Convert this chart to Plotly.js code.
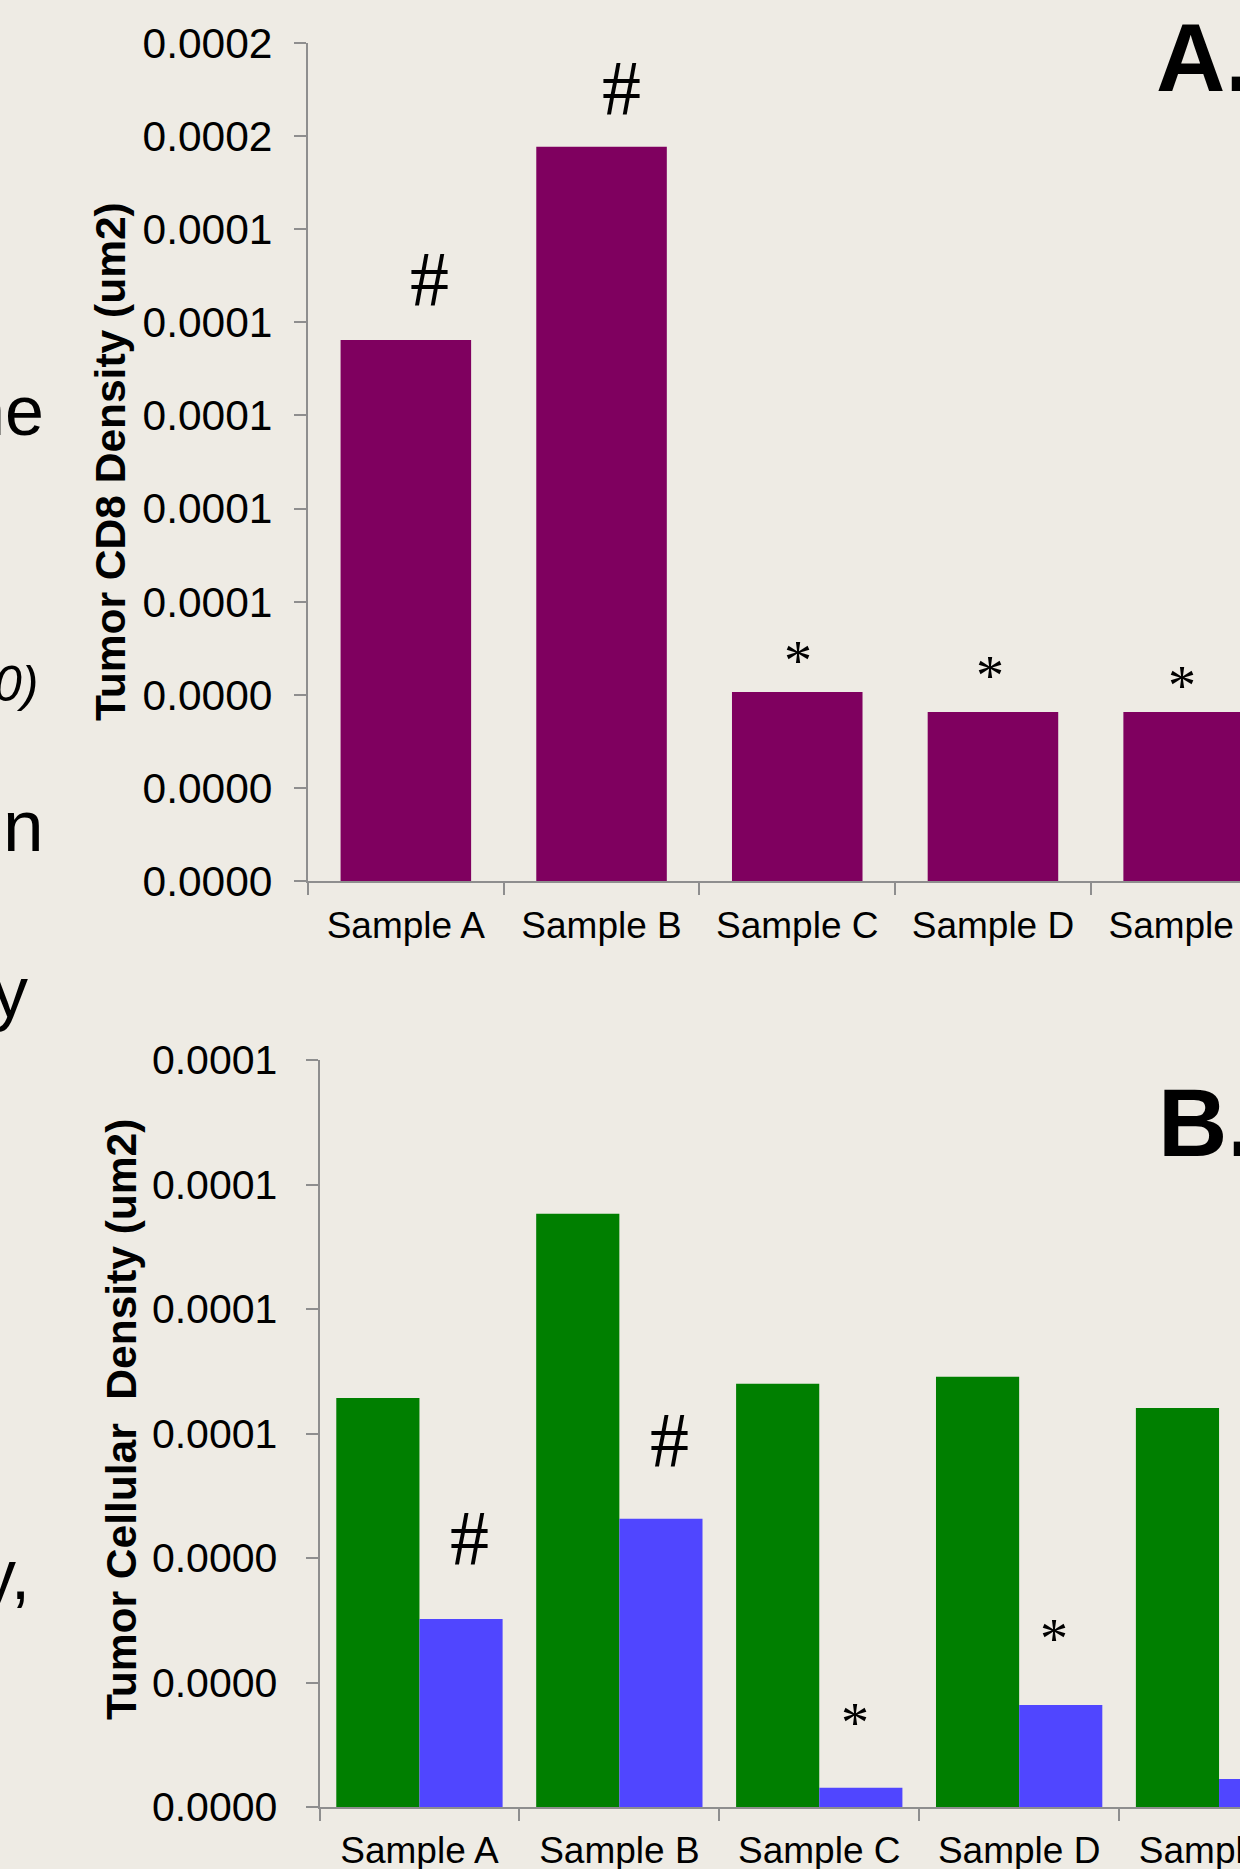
<!DOCTYPE html>
<html>
<head>
<meta charset="utf-8">
<script src="https://cdn.plot.ly/plotly-3.0.1.min.js"></script>
<style>
  html, body { margin: 0; padding: 0; background: #EEEBE4; overflow: hidden; }
  #chart { width: 1240px; height: 1869px; }
</style>
</head>
<body>
<div id="chart"></div>
<script>
// ---------- data ----------
const categories = ['Sample A', 'Sample B', 'Sample C', 'Sample D', 'Sample E'];

// Panel A: Tumor CD8 density
const cd8Density = [0.0001162, 0.0001577, 0.0000406, 0.0000363, 0.0000363];
const marksA = ['#', '#', '*', '*', '*'];

// Panel B: tumor cellular density (green) and CD8 cell density (blue)
const tumorCellDensity = [0.0000657, 0.0000953, 0.0000680, 0.0000691, 0.0000641];
const cd8CellDensity   = [0.0000302, 0.0000463, 0.0000031, 0.0000164, 0.0000045];
const marksB = ['#', '#', '*', '*', ''];

// Tick values / labels
const yTickValsA = [0, 0.00002, 0.00004, 0.00006, 0.00008, 0.0001, 0.00012, 0.00014, 0.00016, 0.00018];
const yTickTextA = ['0.0000', '0.0000', '0.0000', '0.0001', '0.0001', '0.0001', '0.0001', '0.0001', '0.0002', '0.0002'];
const yTickValsB = [0, 0.00002, 0.00004, 0.00006, 0.00008, 0.0001, 0.00012];
const yTickTextB = ['0.0000', '0.0000', '0.0000', '0.0001', '0.0001', '0.0001', '0.0001'];

const titleA = 'Tumor CD8 Density (um2)';
const titleB = 'Tumor Cellular\u00A0 Density (um2)';
const panelLabels = ['A.', 'B.'];
const sideFragments = ['ne', '0)', 'n', 'y', 'y,'];

// ---------- layout helpers (pixel geometry of the page) ----------
const W = 1240, H = 1869;
const px = x => x / W;
const py = y => 1 - y / H;

const BG = '#EEEBE4';
const AXIS = '#8E8E8E';
const SANS = 'Liberation Sans, Arial, sans-serif';
const SERIF = 'Liberation Serif, Times New Roman, serif';

const traces = [
  {
    type: 'bar', name: 'Tumor CD8 density', x: categories, y: cd8Density,
    xaxis: 'x', yaxis: 'y', width: 0.667,
    marker: { color: '#7F005F' }, showlegend: false, hoverinfo: 'skip'
  },
  {
    type: 'bar', name: 'Tumor cellular density', x: categories, y: tumorCellDensity,
    xaxis: 'x2', yaxis: 'y2', width: 0.416, offset: -0.416,
    marker: { color: '#007F00' }, showlegend: false, hoverinfo: 'skip'
  },
  {
    type: 'bar', name: 'CD8 cell density', x: categories, y: cd8CellDensity,
    xaxis: 'x2', yaxis: 'y2', width: 0.416, offset: 0,
    marker: { color: '#5046FF' }, showlegend: false, hoverinfo: 'skip'
  }
];

function xAxis(domainLeft, rangeMax, anchor, standoff) {
  return {
    type: 'category', domain: [px(domainLeft), 1], range: [-0.5, rangeMax], anchor: anchor,
    showline: true, linecolor: AXIS, linewidth: 2,
    ticks: 'outside', tickson: 'boundaries', ticklen: 12, tickwidth: 2, tickcolor: AXIS,
    tickfont: { family: SANS, size: 37, color: '#000' },
    ticklabelstandoff: standoff,
    showgrid: false, zeroline: false, fixedrange: true
  };
}
function yAxis(top, bottom, rmax, vals, text, fontSize, standoff, anchor) {
  return {
    domain: [py(bottom), py(top)], range: [0, rmax], anchor: anchor,
    tickmode: 'array', tickvals: vals, ticktext: text,
    showline: true, linecolor: AXIS, linewidth: 2,
    ticks: 'outside', ticklen: 12, tickwidth: 2, tickcolor: AXIS,
    tickfont: { family: SANS, size: fontSize, color: '#000' },
    ticklabelstandoff: standoff,
    showgrid: false, zeroline: false, fixedrange: true
  };
}

const annotations = [];
const markFont = m => m === '*'
  ? { family: SERIF, size: 56, color: '#000' }
  : { family: SERIF, size: 78, color: '#000' };

// significance marks, panel A (placed relative to each bar top)
const markShiftA = [[24, 62], [20, 59], [1, 31], [-3, 36], [-7, 26]];
marksA.forEach((m, i) => {
  if (!m) return;
  annotations.push({
    xref: 'x', yref: 'y', x: categories[i], y: cd8Density[i], text: m, showarrow: false,
    xanchor: 'center', yanchor: 'middle', xshift: markShiftA[i][0], yshift: markShiftA[i][1],
    font: markFont(m)
  });
});
// significance marks, panel B (above the blue bars)
const markShiftB = [[50, 82], [50, 79], [36, 65], [35, 66], [0, 0]];
marksB.forEach((m, i) => {
  if (!m) return;
  annotations.push({
    xref: 'x2', yref: 'y2', x: categories[i], y: cd8CellDensity[i], text: m, showarrow: false,
    xanchor: 'center', yanchor: 'middle', xshift: markShiftB[i][0], yshift: markShiftB[i][1],
    font: markFont(m)
  });
});

// axis titles (rotated)
annotations.push({
  xref: 'paper', yref: 'paper', x: px(111), y: py(462), text: titleA, textangle: -90,
  showarrow: false, xanchor: 'center', yanchor: 'middle',
  font: { family: SANS, size: 42.5, color: '#000', weight: 'bold' }
});
annotations.push({
  xref: 'paper', yref: 'paper', x: px(121), y: py(1420), text: titleB, textangle: -90,
  showarrow: false, xanchor: 'center', yanchor: 'middle',
  font: { family: SANS, size: 42.5, color: '#000', weight: 'bold' }
});

// panel letters
annotations.push({
  xref: 'paper', yref: 'paper', x: px(1154), y: py(113), text: panelLabels[0],
  showarrow: false, xanchor: 'left', yanchor: 'bottom',
  font: { family: SANS, size: 96, color: '#000', weight: 'bold' }
});
annotations.push({
  xref: 'paper', yref: 'paper', x: px(1156), y: py(1178), text: panelLabels[1],
  showarrow: false, xanchor: 'left', yanchor: 'bottom',
  font: { family: SANS, size: 96, color: '#000', weight: 'bold' }
});

// cut-off fragments of slide text at the left edge
const fragPos = [
  { x: 46, y: 452, size: 70, style: 'normal' },
  { x: 40, y: 714, size: 50, style: 'italic' },
  { x: 46, y: 868, size: 73, style: 'normal' },
  { x: 30, y: 1034, size: 72, style: 'normal' },
  { x: 32, y: 1616, size: 70, style: 'normal' }
];
sideFragments.forEach((t, i) => {
  const f = fragPos[i];
  annotations.push({
    xref: 'paper', yref: 'paper', x: px(f.x), y: py(f.y), text: t,
    showarrow: false, xanchor: 'right', yanchor: 'bottom',
    font: { family: SANS, size: f.size, color: '#000', style: f.style }
  });
});

const layout = {
  width: W, height: H,
  margin: { l: 0, r: 0, t: 0, b: 0, pad: 0 },
  paper_bgcolor: BG, plot_bgcolor: BG,
  barmode: 'group',
  showlegend: false,
  xaxis: xAxis(308, (1240 - 308) / 195.7 - 0.5, 'y', 11),
  yaxis: yAxis(43, 881, 0.00018, yTickValsA, yTickTextA, 42.5, 13, 'x'),
  xaxis2: xAxis(319.5, (1240 - 319.5) / 199.9 - 0.5, 'y2', 10),
  yaxis2: yAxis(1060, 1807, 0.00012, yTickValsB, yTickTextB, 41, 20, 'x2'),
  annotations: annotations
};

Plotly.newPlot('chart', traces, layout, { staticPlot: true, displayModeBar: false });
</script>
</body>
</html>
